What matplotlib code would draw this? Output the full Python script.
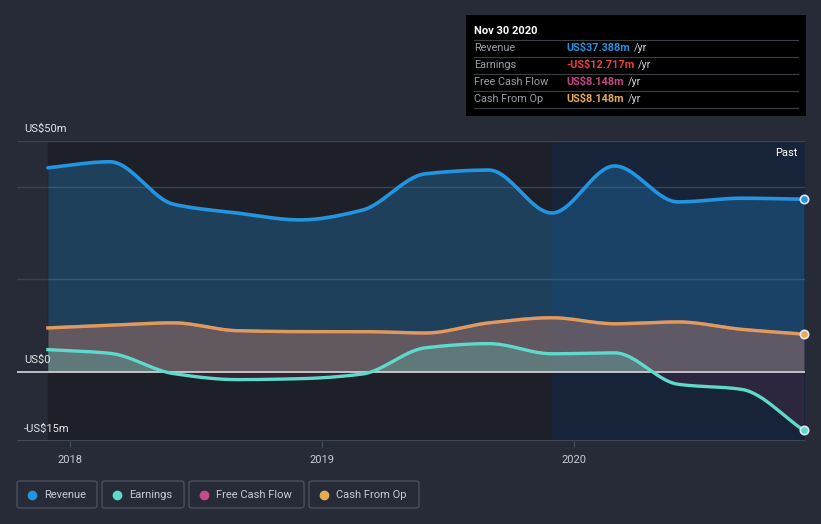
import numpy as np
import pandas as pd
import matplotlib.pyplot as plt
from matplotlib.patches import FancyBboxPatch, Rectangle

plt.rcParams['font.family'] = ['Roboto', 'DejaVu Sans']

# quarterly points, values in US$ m
dates = ['2017-11-30', '2018-02-28', '2018-05-31', '2018-08-31', '2018-11-30',
         '2019-02-28', '2019-05-31', '2019-08-31', '2019-11-30', '2020-02-29',
         '2020-05-31', '2020-08-31', '2020-11-30']
revenue = [44.2, 45.5, 36.3, 34.4, 32.9, 35.0, 42.9, 43.7, 34.4, 44.6, 36.8, 37.6, 37.388]
earnings = [4.8, 4.0, -0.4, -1.7, -1.5, -0.5, 5.2, 6.1, 3.9, 4.1, -2.7, -3.8, -12.717]
fcf = [9.5, 10.1, 10.6, 8.9, 8.7, 8.7, 8.4, 10.6, 11.7, 10.4, 10.8, 9.2, 8.148]
cfo = [9.5, 10.1, 10.6, 8.9, 8.7, 8.7, 8.4, 10.6, 11.7, 10.4, 10.8, 9.2, 8.148]

series_names = ['Revenue', 'Earnings', 'Free Cash Flow', 'Cash From Op']
colors = ['#2394e0', '#5fd9cc', '#c8488a', '#e8ab55']
tip_values = ['US$37.388m', '-US$12.717m', 'US$8.148m', 'US$8.148m']
tip_colors = ['#2394e0', '#e8413f', '#c8488a', '#e8ab55']

BG = '#262b37'
W, H = 821, 524


def to_year(d):
    t = pd.Timestamp(d)
    return t.year + (t.dayofyear - 1) / (366 if t.is_leap_year else 365)


def pchip(x, y, xs):
    x = np.asarray(x, float); y = np.asarray(y, float)
    h = np.diff(x); d = np.diff(y) / h
    m = np.zeros(len(x))
    m[0], m[-1] = d[0], d[-1]
    for k in range(1, len(x) - 1):
        if d[k - 1] * d[k] > 0:
            w1 = 2 * h[k] + h[k - 1]
            w2 = h[k] + 2 * h[k - 1]
            m[k] = (w1 + w2) / (w1 / d[k - 1] + w2 / d[k])
    i = np.clip(np.searchsorted(x, xs) - 1, 0, len(x) - 2)
    t = (xs - x[i]) / h[i]
    h00 = 2 * t**3 - 3 * t**2 + 1
    h10 = t**3 - 2 * t**2 + t
    h01 = -2 * t**3 + 3 * t**2
    h11 = t**3 - t**2
    return h00 * y[i] + h10 * h[i] * m[i] + h01 * y[i + 1] + h11 * h[i] * m[i + 1]


xd = np.array([to_year(d) for d in dates])
xs = np.linspace(xd[0], xd[-1], 600)

fig = plt.figure(figsize=(W / 100, H / 100), dpi=100, facecolor=BG)
ax = fig.add_axes([17 / W, 1 - 441 / H, (805 - 17) / W, 300 / H])
ax.set_facecolor(BG)
x0 = 2018 + (17 - 70) / 252
x1 = 2018 + (805 - 70) / 252
ax.set_xlim(x0, x1)
ax.set_ylim(-15, 50)

# background bands
ax.axvspan(xd[0], xd[8], color='#1e2029', zorder=0)
ax.axvspan(xd[8], xd[-1], color='#172338', zorder=0)

for g in [50, 40, 20]:
    ax.axhline(g, color='#3c4250', lw=1, zorder=1)
ax.axhline(-15, color='#4a505c', lw=1.2, zorder=1)

rs = pchip(xd, revenue, xs)
es = pchip(xd, earnings, xs)
fs = pchip(xd, fcf, xs)
cs = pchip(xd, cfo, xs)

ax.fill_between(xs, 0, rs, color='#2394e0', alpha=0.28, lw=0, zorder=2)
ax.fill_between(xs, 0, fs, color='#c8488a', alpha=0.18, lw=0, zorder=3)
ax.fill_between(xs, 0, cs, color='#e8ab55', alpha=0.22, lw=0, zorder=3)
ax.fill_between(xs, 0, es, where=es >= 0, color='#5fd9cc', alpha=0.25, lw=0, zorder=4)
ax.fill_between(xs, 0, es, where=es < 0, color='#c04070', alpha=0.13, lw=0, zorder=4)

ax.axhline(0, color='#d8d8dc', lw=1.2, zorder=5)

ax.plot(xs, rs, color=colors[0], lw=2.6, zorder=6, solid_capstyle='round')
ax.plot(xs, fs, color=colors[2], lw=2.4, alpha=0.8, zorder=6)
ax.plot(xs, cs, color=colors[3], lw=2.4, alpha=0.85, zorder=6)
ax.plot(xs, es, color=colors[1], lw=2.4, zorder=7)

for vals, c in [(revenue, colors[0]), (cfo, colors[3]), (earnings, colors[1])]:
    ax.plot(xd[-1], vals[-1], 'o', ms=6, mfc=c, mec='#e0e6f0', mew=1.2, zorder=8, clip_on=False)

for s in ax.spines.values():
    s.set_visible(False)
ax.set_yticks([])
ax.set_xticks([2018, 2019, 2020])
ax.set_xticklabels(['2018', '2019', '2020'], color='#c8ccd4', fontsize=8)
ax.tick_params(axis='x', length=4, color='#4a505c', pad=6)

# y labels inside
for v, lab, yp in [(50, 'US$50m', 129), (0, 'US$0', 360), (-15, '-US$15m', 429)]:
    fig.text(24 / W, 1 - yp / H, lab, color='#e4e6ea', fontsize=8, va='center', ha='left')

fig.text(797 / W, 1 - 153 / H, 'Past', color='#ffffff', fontsize=8, va='center', ha='right')

# tooltip
fig.patches.append(Rectangle((466 / W, 1 - 116 / H), 340 / W, 101 / H,
                             transform=fig.transFigure, facecolor='#000000', edgecolor='none'))
fig.text(474 / W, 1 - 31 / H, 'Nov 30 2020', color='white', fontsize=8, fontweight='bold', va='center')
for i, (name, val, c) in enumerate(zip(series_names, tip_values, tip_colors)):
    yl = 40 + 17 * i
    fig.add_artist(plt.Line2D([474 / W, 798 / W], [1 - yl / H, 1 - yl / H],
                              transform=fig.transFigure, color='#3c3f46', lw=0.8))
    yt = 48 + 17 * i
    fig.text(474 / W, 1 - yt / H, name, color='#9a9ea6', fontsize=7.8, va='center')
    t = fig.text(566 / W, 1 - yt / H, val, color=c, fontsize=7.8, fontweight='bold', va='center')
    fig.canvas.draw()
    bb = t.get_window_extent()
    fig.text(bb.x1 / W + 4 / W, 1 - yt / H, '/yr', color='#d0d2d6', fontsize=7.8, va='center')
fig.add_artist(plt.Line2D([474 / W, 798 / W], [1 - 108 / H, 1 - 108 / H],
                          transform=fig.transFigure, color='#3c3f46', lw=0.8))

# legend boxes
boxes = [(17, 97), (102, 184), (189, 304), (309, 419)]
for (bx0, bx1), name, c in zip(boxes, series_names, colors):
    fig.patches.append(FancyBboxPatch((bx0 / W, 1 - 508 / H), (bx1 - bx0) / W, 27 / H,
                                      boxstyle='round,pad=0,rounding_size=0.004',
                                      transform=fig.transFigure, facecolor='none',
                                      edgecolor='#4a505c', lw=1))
    fig.add_artist(plt.Line2D([(bx0 + 15) / W], [1 - 494.5 / H], marker='o', ms=6,
                              color=c, transform=fig.transFigure, lw=0))
    fig.text((bx0 + 27) / W, 1 - 494.5 / H, name, color='#c8ccd4', fontsize=8, va='center')

fig.savefig('out.png', dpi=100, facecolor=BG)
